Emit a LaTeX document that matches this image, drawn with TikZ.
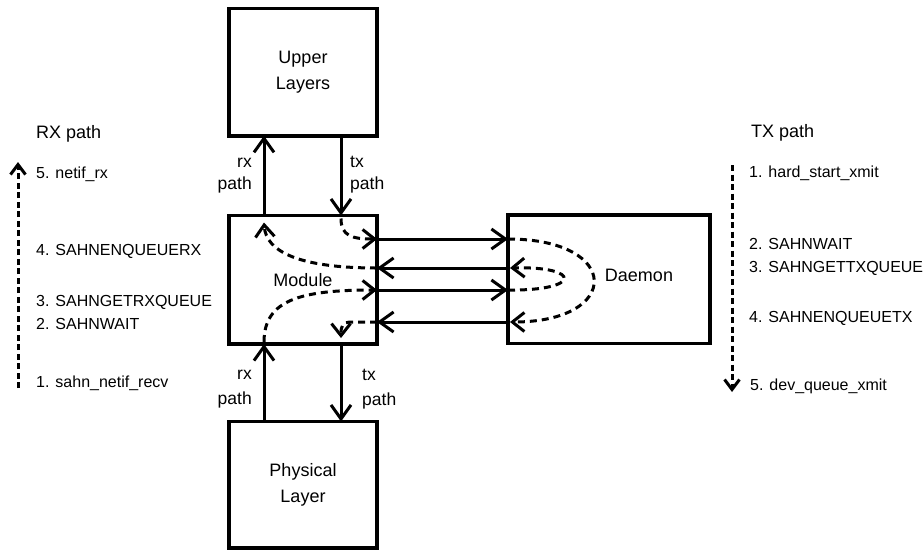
\documentclass[tikz,border=0pt]{standalone}
\usepackage{fontspec}
\setmainfont{Liberation Sans}
\usetikzlibrary{arrows.meta,calc}

\begin{document}
\begin{tikzpicture}[x=1pt,y=-1pt,
  box/.style={draw, line width=3.5pt, rectangle, inner sep=0pt, outer sep=0pt,
              font=\fontsize{18}{25.5}\selectfont, align=center},
  flow/.style={line width=3pt, -{Straight Barb[length=14pt,width=20pt]}},
  hop/.style={line width=3pt, dash pattern=on 7pt off 5pt,
              -{Straight Barb[length=12pt,width=19pt]}},
  trail/.style={line width=3pt, dash pattern=on 6pt off 3.5pt,
                -{Straight Barb[length=10pt,width=15pt]}},
  heading/.style={font=\fontsize{18}{22}\selectfont, anchor=base west, inner sep=0pt},
  step text/.style={font=\fontsize{16}{19}\selectfont, anchor=base west, inner sep=0pt},
  pathlbl/.style={font=\fontsize{17.5}{22}\selectfont, inner sep=0pt},
]
\useasboundingbox (0,0) rectangle (924,550);

% the four blocks
\node[box, minimum width=148pt, minimum height=127.5pt] (upper) at (303,72) {Upper\\Layers};
\node[box, minimum width=148pt, minimum height=128.5pt] (module) at (303,279.75) {Module};
\node[box, minimum width=148pt, minimum height=126.5pt] (phys) at (303,484.75) {Physical\\Layer};
\node[box, minimum width=202pt, minimum height=128.5pt] (daemon) at (609,279.25) {};
\node[font=\fontsize{18}{22}\selectfont, anchor=base, inner sep=0pt] (daemontext) at (639,281) {Daemon};

% columns and rows of the connectors
\coordinate (rx) at (264,0);
\coordinate (tx) at (341,0);
\coordinate (r1) at (0,239);
\coordinate (r2) at (0,268);
\coordinate (r3) at (0,290);
\coordinate (r4) at (0,322);

% vertical rx / tx links
\draw[flow] (module.north -| rx) -- (upper.south -| rx);
\draw[flow] (upper.south -| tx) -- (module.north -| tx);
\draw[flow] (phys.north -| rx) -- (module.south -| rx);
\draw[flow] (module.south -| tx) -- (phys.north -| tx);

% module <-> daemon links
\draw[flow] (module.east |- r1) -- (daemon.west |- r1);
\draw[flow] (daemon.west |- r2) -- (module.east |- r2);
\draw[flow] (module.east |- r3) -- (daemon.west |- r3);
\draw[flow] (daemon.west |- r4) -- (module.east |- r4);

% labels of the vertical links (anchored at the baseline of the last line)
\node[pathlbl, anchor=base east, align=right] (rxup) at (252,189) {rx\\path};
\node[pathlbl, anchor=base west, align=left] (txup) at (350,189) {tx\\path};
\node[pathlbl, anchor=base east, align=right] (rxdown) at (252,404) {rx\\[3pt]path};
\node[pathlbl, anchor=base west, align=left] (txdown) at (362,405) {tx\\[3pt]path};

% routes through the module
\draw[hop] ($(module.north -| tx)+(0,3)$) .. controls (341,236) and (352,239) .. (module.east |- r1);
\draw[hop] (module.east |- r2) .. controls (300,268) and (266,252) .. ($(module.north -| rx)+(0,7)$);
\draw[hop] ($(module.south -| rx)+(0,-2)$) .. controls (264,300) and (300,290) .. (module.east |- r3);
\draw[hop] (module.east |- r4) -- (352,322) .. controls (342,322) and (341,326) .. ($(module.south -| tx)+(0,-6)$);

% routes through the daemon
\draw[hop] (daemon.west |- r1) .. controls (622,239) and (622,322) .. ($(daemon.west |- r4)+(2,0)$);
\draw[hop] (daemon.west |- r3) .. controls (582,291) and (582,266) .. ($(daemon.west |- r2)+(2,0)$);

% RX path steps
\node[heading] (rxhead) at (36,138) {RX path};
\coordinate (rxbot) at (18,388);
\coordinate (rxtop) at (18,162);
\draw[trail] (rxbot) -- (rxtop);
\node[step text] (rx5) at (36,178) {5. netif\_rx};
\node[step text] (rx4) at (36,255) {4. SAHNENQUEUERX};
\node[step text] (rx3) at (36,306) {3. SAHNGETRXQUEUE};
\node[step text] (rx2) at (36,329) {2. SAHNWAIT};
\node[step text] (rx1) at (36,387) {1. sahn\_netif\_recv};

% TX path steps
\node[heading] (txhead) at (751,137) {TX path};
\coordinate (txtop) at (732,165);
\coordinate (txbot) at (732,392);
\draw[trail] (txtop) -- (txbot);
\node[step text] (tx1) at (749,177) {1. hard\_start\_xmit};
\node[step text] (tx2) at (749,249) {2. SAHNWAIT};
\node[step text] (tx3) at (749,272) {3. SAHNGETTXQUEUE};
\node[step text] (tx4) at (749,322) {4. SAHNENQUEUETX};
\node[step text] (tx5) at (750,390) {5. dev\_queue\_xmit};
\end{tikzpicture}
\end{document}
